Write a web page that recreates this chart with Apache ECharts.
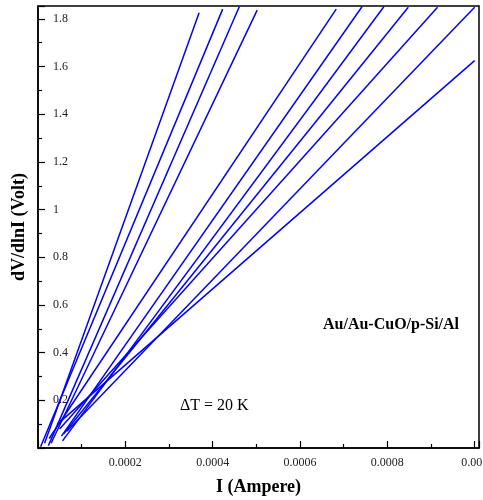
<!DOCTYPE html>
<html>
<head>
<meta charset="utf-8">
<script src="https://cdn.jsdelivr.net/npm/echarts@6/dist/echarts.min.js"></script>
<style>
html,body{margin:0;padding:0;background:#fff;}
#chart{width:483px;height:500px;}
</style>
</head>
<body>
<div id="chart"></div>
<script>
// Data (I in Ampere, dV/dlnI in Volt)
const startI = [0.0000151, 0.0000060, 0.0000238, 0.0000301, 0.0000256, 0.0000538, 0.0000562, 0.0000591, 0.0000494, 0.0000661, 0.0000445];
const startV = [0.02, 0.005, 0.01, 0.02, 0.04, 0.05, 0.03, 0.06, 0.08, 0.07, 0.10];
const endI = [0.000369, 0.000423, 0.000461, 0.000502, 0.000683, 0.000742, 0.000792, 0.000848, 0.000915, 0.001, 0.001];
const endV = [1.826, 1.841, 1.851, 1.837, 1.841, 1.851, 1.851, 1.849, 1.849, 1.849, 1.625];
const xTicks = [0.0002, 0.0004, 0.0006, 0.0008, 0.001];
const yTicks = [0.2, 0.4, 0.6, 0.8, 1, 1.2, 1.4, 1.6, 1.8];

const serif = '"Liberation Serif", "Times New Roman", serif';
const chart = echarts.init(document.getElementById('chart'), null, {renderer: 'canvas'});

const series = startI.map((s, i) => ({
  type: 'line',
  data: [[s, startV[i]], [endI[i], endV[i]]],
  symbol: 'none',
  silent: true,
  lineStyle: {color: '#0000ff', width: 1.5},
  z: 3
}));

chart.setOption({
  animation: false,
  backgroundColor: '#fff',
  grid: {left: 38, right: 4, top: 6, bottom: 52, containLabel: false, outerBoundsMode: 'none',
         show: true, borderColor: '#000', borderWidth: 1.5, backgroundColor: 'transparent'},
  xAxis: {
    type: 'value', min: 0, max: 0.00101, interval: 0.0002,
    name: 'I (Ampere)', nameLocation: 'middle', nameGap: 30,
    nameTextStyle: {fontFamily: serif, fontWeight: 'bold', fontSize: 18, color: '#000'},
    axisLine: {show: true, lineStyle: {color: '#000', width: 1.5}},
    axisTick: {show: true, inside: true, length: 7, lineStyle: {color: '#000', width: 1.2}},
    minorTick: {show: true, splitNumber: 2, length: 4, lineStyle: {color: '#000', width: 1.2}},
    splitLine: {show: false},
    axisLabel: {
      show: true, margin: 9, fontFamily: serif, fontSize: 12, color: '#222',
      showMinLabel: false, showMaxLabel: false, hideOverlap: false,
      formatter: v => xTicks.some(t => Math.abs(t - v) < 1e-9) ? String(+v.toPrecision(3)) : ''
    }
  },
  yAxis: {
    type: 'value', min: 0, max: 1.854, interval: 0.2,
    name: 'dV/dlnI (Volt)', nameLocation: 'middle', nameGap: 10,
    nameTextStyle: {fontFamily: serif, fontWeight: 'bold', fontSize: 18, color: '#000'},
    axisLine: {show: true, lineStyle: {color: '#000', width: 1.5}},
    axisTick: {show: true, inside: true, length: 7, lineStyle: {color: '#000', width: 1.2}},
    minorTick: {show: true, splitNumber: 2, length: 4, lineStyle: {color: '#000', width: 1.2}},
    splitLine: {show: false},
    axisLabel: {
      show: true, inside: true, margin: 15, fontFamily: serif, fontSize: 12, color: '#222',
      showMinLabel: false, showMaxLabel: false,
      formatter: v => yTicks.some(t => Math.abs(t - v) < 1e-9) ? String(+v.toFixed(1)) : ''
    }
  },
  graphic: [
    {type: 'text', left: 323, top: 317, z: 10, style: {text: 'Au/Au-CuO/p-Si/Al', font: 'bold 16px ' + serif, fill: '#000'}},
    {type: 'text', left: 180, top: 398, z: 10, style: {text: 'ΔT = 20 K', font: '16px ' + serif, fill: '#000'}}
  ],
  series: series
});
</script>
</body>
</html>
